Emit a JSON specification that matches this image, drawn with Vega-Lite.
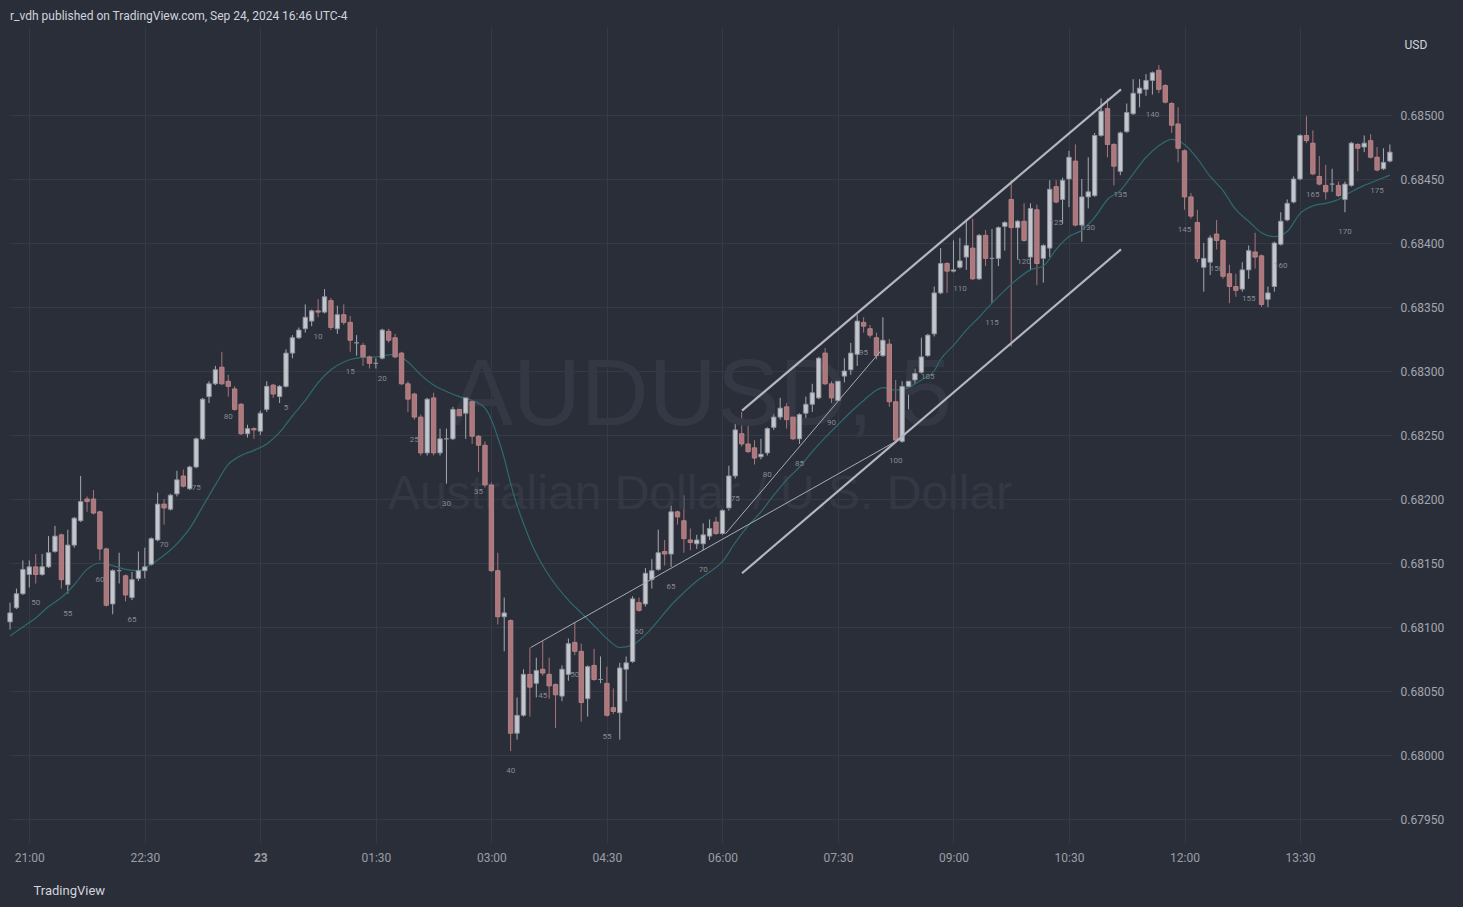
{
"$schema": "https://vega.github.io/schema/vega-lite/v6.json",
"width": 1382, "height": 816,
"autosize": {"type": "none"},
"padding": {"left": 10, "top": 27, "right": 71, "bottom": 64},
"background": "#2a2e39",
"title": {"text": "r_vdh published on TradingView.com, Sep 24, 2024 16:46 UTC-4", "anchor": "start", "frame": "group", "offset": 4, "fontSize": 12, "fontWeight": "normal", "color": "#d1d4dc", "font": "Roboto"},
"datasets": {
"candles": [
{"t":-3,"o":0.68104,"h":0.68119,"l":0.68098,"c":0.68111},
{"t":-2,"o":0.68115,"h":0.68130,"l":0.68114,"c":0.68126},
{"t":-1,"o":0.68126,"h":0.68152,"l":0.68125,"c":0.68145},
{"t":0,"o":0.68141,"h":0.68152,"l":0.68131,"c":0.68147},
{"t":1,"o":0.68147,"h":0.68157,"l":0.68134,"c":0.68141,"n":50},
{"t":2,"o":0.68141,"h":0.68157,"l":0.68140,"c":0.68147},
{"t":3,"o":0.68147,"h":0.68171,"l":0.68146,"c":0.68158},
{"t":4,"o":0.68159,"h":0.68179,"l":0.68158,"c":0.68171},
{"t":5,"o":0.68172,"h":0.68173,"l":0.68130,"c":0.68137},
{"t":6,"o":0.68133,"h":0.68176,"l":0.68126,"c":0.68164,"n":55},
{"t":7,"o":0.68164,"h":0.68186,"l":0.68162,"c":0.68185},
{"t":8,"o":0.68183,"h":0.68218,"l":0.68182,"c":0.68198},
{"t":9,"o":0.68200,"h":0.68202,"l":0.68190,"c":0.68198},
{"t":10,"o":0.68200,"h":0.68207,"l":0.68188,"c":0.68189},
{"t":11,"o":0.68190,"h":0.68191,"l":0.68152,"c":0.68161,"n":60},
{"t":12,"o":0.68161,"h":0.68162,"l":0.68116,"c":0.68117},
{"t":13,"o":0.68118,"h":0.68145,"l":0.68110,"c":0.68144},
{"t":14,"o":0.68144,"h":0.68158,"l":0.68134,"c":0.68144},
{"t":15,"o":0.68140,"h":0.68141,"l":0.68120,"c":0.68125},
{"t":16,"o":0.68123,"h":0.68143,"l":0.68121,"c":0.68137,"n":65},
{"t":17,"o":0.68138,"h":0.68159,"l":0.68136,"c":0.68144},
{"t":18,"o":0.68144,"h":0.68162,"l":0.68138,"c":0.68147},
{"t":19,"o":0.68149,"h":0.68170,"l":0.68148,"c":0.68169},
{"t":20,"o":0.68168,"h":0.68205,"l":0.68167,"c":0.68196},
{"t":21,"o":0.68196,"h":0.68200,"l":0.68180,"c":0.68193,"n":70},
{"t":22,"o":0.68192,"h":0.68204,"l":0.68191,"c":0.68203},
{"t":23,"o":0.68204,"h":0.68222,"l":0.68202,"c":0.68215},
{"t":24,"o":0.68218,"h":0.68223,"l":0.68209,"c":0.68210},
{"t":25,"o":0.68208,"h":0.68226,"l":0.68207,"c":0.68225},
{"t":26,"o":0.68225,"h":0.68248,"l":0.68224,"c":0.68247,"n":75},
{"t":27,"o":0.68247,"h":0.68279,"l":0.68246,"c":0.68278},
{"t":28,"o":0.68280,"h":0.68292,"l":0.68275,"c":0.68290},
{"t":29,"o":0.68290,"h":0.68304,"l":0.68289,"c":0.68301},
{"t":30,"o":0.68303,"h":0.68315,"l":0.68289,"c":0.68290},
{"t":31,"o":0.68292,"h":0.68297,"l":0.68280,"c":0.68288,"n":80},
{"t":32,"o":0.68286,"h":0.68288,"l":0.68269,"c":0.68270},
{"t":33,"o":0.68274,"h":0.68275,"l":0.68250,"c":0.68251},
{"t":34,"o":0.68251,"h":0.68258,"l":0.68248,"c":0.68255},
{"t":35,"o":0.68255,"h":0.68256,"l":0.68247,"c":0.68254},
{"t":36,"o":0.68253,"h":0.68269,"l":0.68250,"c":0.68267},
{"t":37,"o":0.68270,"h":0.68292,"l":0.68268,"c":0.68288},
{"t":38,"o":0.68289,"h":0.68290,"l":0.68279,"c":0.68282},
{"t":39,"o":0.68280,"h":0.68289,"l":0.68275,"c":0.68288},
{"t":40,"o":0.68288,"h":0.68317,"l":0.68287,"c":0.68314,"n":5},
{"t":41,"o":0.68314,"h":0.68328,"l":0.68310,"c":0.68326},
{"t":42,"o":0.68326,"h":0.68334,"l":0.68325,"c":0.68332},
{"t":43,"o":0.68333,"h":0.68352,"l":0.68330,"c":0.68342},
{"t":44,"o":0.68339,"h":0.68348,"l":0.68335,"c":0.68347},
{"t":45,"o":0.68347,"h":0.68356,"l":0.68342,"c":0.68346,"n":10},
{"t":46,"o":0.68346,"h":0.68364,"l":0.68345,"c":0.68358},
{"t":47,"o":0.68355,"h":0.68357,"l":0.68332,"c":0.68334},
{"t":48,"o":0.68333,"h":0.68351,"l":0.68329,"c":0.68344},
{"t":49,"o":0.68344,"h":0.68352,"l":0.68336,"c":0.68338},
{"t":50,"o":0.68338,"h":0.68343,"l":0.68315,"c":0.68324,"n":15},
{"t":51,"o":0.68322,"h":0.68328,"l":0.68312,"c":0.68322},
{"t":52,"o":0.68320,"h":0.68322,"l":0.68304,"c":0.68311},
{"t":53,"o":0.68311,"h":0.68312,"l":0.68302,"c":0.68306},
{"t":54,"o":0.68306,"h":0.68310,"l":0.68302,"c":0.68306},
{"t":55,"o":0.68310,"h":0.68333,"l":0.68309,"c":0.68332,"n":20},
{"t":56,"o":0.68331,"h":0.68333,"l":0.68322,"c":0.68324},
{"t":57,"o":0.68326,"h":0.68329,"l":0.68310,"c":0.68311},
{"t":58,"o":0.68314,"h":0.68315,"l":0.68289,"c":0.68290},
{"t":59,"o":0.68290,"h":0.68292,"l":0.68268,"c":0.68278},
{"t":60,"o":0.68282,"h":0.68283,"l":0.68262,"c":0.68264,"n":25},
{"t":61,"o":0.68264,"h":0.68266,"l":0.68234,"c":0.68236},
{"t":62,"o":0.68236,"h":0.68279,"l":0.68234,"c":0.68278},
{"t":63,"o":0.68279,"h":0.68283,"l":0.68234,"c":0.68236},
{"t":64,"o":0.68236,"h":0.68255,"l":0.68234,"c":0.68247},
{"t":65,"o":0.68247,"h":0.68255,"l":0.68212,"c":0.68247,"n":30},
{"t":66,"o":0.68247,"h":0.68272,"l":0.68246,"c":0.68270},
{"t":67,"o":0.68270,"h":0.68274,"l":0.68262,"c":0.68265},
{"t":68,"o":0.68267,"h":0.68280,"l":0.68247,"c":0.68279},
{"t":69,"o":0.68276,"h":0.68278,"l":0.68243,"c":0.68249},
{"t":70,"o":0.68249,"h":0.68250,"l":0.68221,"c":0.68242,"n":35},
{"t":71,"o":0.68242,"h":0.68245,"l":0.68209,"c":0.68211},
{"t":72,"o":0.68211,"h":0.68213,"l":0.68143,"c":0.68144},
{"t":73,"o":0.68144,"h":0.68158,"l":0.68102,"c":0.68108},
{"t":74,"o":0.68108,"h":0.68123,"l":0.68081,"c":0.68111},
{"t":75,"o":0.68105,"h":0.68106,"l":0.68003,"c":0.68017,"n":40},
{"t":76,"o":0.68017,"h":0.68045,"l":0.68012,"c":0.68031},
{"t":77,"o":0.68031,"h":0.68067,"l":0.68030,"c":0.68063},
{"t":78,"o":0.68063,"h":0.68084,"l":0.68030,"c":0.68053},
{"t":79,"o":0.68056,"h":0.68076,"l":0.68045,"c":0.68066},
{"t":80,"o":0.68067,"h":0.68089,"l":0.68062,"c":0.68064,"n":45},
{"t":81,"o":0.68063,"h":0.68076,"l":0.68044,"c":0.68054},
{"t":82,"o":0.68055,"h":0.68056,"l":0.68021,"c":0.68047},
{"t":83,"o":0.68046,"h":0.68070,"l":0.68042,"c":0.68067},
{"t":84,"o":0.68063,"h":0.68091,"l":0.68058,"c":0.68087},
{"t":85,"o":0.68088,"h":0.68104,"l":0.68078,"c":0.68081,"n":50},
{"t":86,"o":0.68081,"h":0.68087,"l":0.68026,"c":0.68041},
{"t":87,"o":0.68044,"h":0.68070,"l":0.68030,"c":0.68069},
{"t":88,"o":0.68070,"h":0.68083,"l":0.68058,"c":0.68059},
{"t":89,"o":0.68059,"h":0.68077,"l":0.68056,"c":0.68059},
{"t":90,"o":0.68056,"h":0.68069,"l":0.68030,"c":0.68031,"n":55},
{"t":91,"o":0.68037,"h":0.68052,"l":0.68032,"c":0.68034},
{"t":92,"o":0.68033,"h":0.68072,"l":0.68012,"c":0.68068},
{"t":93,"o":0.68067,"h":0.68077,"l":0.68042,"c":0.68072},
{"t":94,"o":0.68073,"h":0.68124,"l":0.68072,"c":0.68122},
{"t":95,"o":0.68119,"h":0.68123,"l":0.68112,"c":0.68113,"n":60},
{"t":96,"o":0.68118,"h":0.68146,"l":0.68116,"c":0.68142},
{"t":97,"o":0.68137,"h":0.68153,"l":0.68130,"c":0.68144},
{"t":98,"o":0.68145,"h":0.68176,"l":0.68144,"c":0.68158},
{"t":99,"o":0.68159,"h":0.68168,"l":0.68148,"c":0.68157},
{"t":100,"o":0.68157,"h":0.68195,"l":0.68147,"c":0.68190,"n":65},
{"t":101,"o":0.68190,"h":0.68191,"l":0.68180,"c":0.68186},
{"t":102,"o":0.68183,"h":0.68203,"l":0.68158,"c":0.68169},
{"t":103,"o":0.68168,"h":0.68177,"l":0.68160,"c":0.68166},
{"t":104,"o":0.68165,"h":0.68172,"l":0.68161,"c":0.68168},
{"t":105,"o":0.68165,"h":0.68181,"l":0.68160,"c":0.68172,"n":70},
{"t":106,"o":0.68171,"h":0.68184,"l":0.68168,"c":0.68177},
{"t":107,"o":0.68182,"h":0.68186,"l":0.68172,"c":0.68173},
{"t":108,"o":0.68173,"h":0.68192,"l":0.68172,"c":0.68191},
{"t":109,"o":0.68193,"h":0.68226,"l":0.68191,"c":0.68218},
{"t":110,"o":0.68218,"h":0.68260,"l":0.68216,"c":0.68254,"n":75},
{"t":111,"o":0.68251,"h":0.68268,"l":0.68241,"c":0.68243},
{"t":112,"o":0.68243,"h":0.68262,"l":0.68236,"c":0.68237},
{"t":113,"o":0.68240,"h":0.68246,"l":0.68227,"c":0.68232},
{"t":114,"o":0.68233,"h":0.68247,"l":0.68231,"c":0.68235},
{"t":115,"o":0.68236,"h":0.68256,"l":0.68234,"c":0.68255,"n":80},
{"t":116,"o":0.68256,"h":0.68267,"l":0.68254,"c":0.68264},
{"t":117,"o":0.68264,"h":0.68279,"l":0.68262,"c":0.68271},
{"t":118,"o":0.68272,"h":0.68275,"l":0.68255,"c":0.68262},
{"t":119,"o":0.68264,"h":0.68267,"l":0.68246,"c":0.68247},
{"t":120,"o":0.68247,"h":0.68267,"l":0.68243,"c":0.68266,"n":85},
{"t":121,"o":0.68267,"h":0.68280,"l":0.68259,"c":0.68274},
{"t":122,"o":0.68274,"h":0.68290,"l":0.68268,"c":0.68283},
{"t":123,"o":0.68279,"h":0.68311,"l":0.68278,"c":0.68310},
{"t":124,"o":0.68314,"h":0.68318,"l":0.68289,"c":0.68290},
{"t":125,"o":0.68290,"h":0.68292,"l":0.68275,"c":0.68279,"n":90},
{"t":126,"o":0.68277,"h":0.68293,"l":0.68272,"c":0.68292},
{"t":127,"o":0.68296,"h":0.68310,"l":0.68291,"c":0.68300},
{"t":128,"o":0.68301,"h":0.68322,"l":0.68297,"c":0.68314},
{"t":129,"o":0.68313,"h":0.68344,"l":0.68304,"c":0.68339},
{"t":130,"o":0.68338,"h":0.68342,"l":0.68330,"c":0.68335,"n":95},
{"t":131,"o":0.68333,"h":0.68336,"l":0.68326,"c":0.68328},
{"t":132,"o":0.68326,"h":0.68330,"l":0.68309,"c":0.68312},
{"t":133,"o":0.68312,"h":0.68342,"l":0.68311,"c":0.68324},
{"t":134,"o":0.68321,"h":0.68325,"l":0.68272,"c":0.68276},
{"t":135,"o":0.68276,"h":0.68293,"l":0.68245,"c":0.68246,"n":100},
{"t":136,"o":0.68245,"h":0.68292,"l":0.68244,"c":0.68288},
{"t":137,"o":0.68288,"h":0.68297,"l":0.68270,"c":0.68292},
{"t":138,"o":0.68293,"h":0.68302,"l":0.68290,"c":0.68298},
{"t":139,"o":0.68299,"h":0.68326,"l":0.68298,"c":0.68311},
{"t":140,"o":0.68312,"h":0.68329,"l":0.68311,"c":0.68328,"n":105},
{"t":141,"o":0.68329,"h":0.68366,"l":0.68327,"c":0.68361},
{"t":142,"o":0.68361,"h":0.68396,"l":0.68360,"c":0.68384},
{"t":143,"o":0.68384,"h":0.68385,"l":0.68361,"c":0.68378},
{"t":144,"o":0.68378,"h":0.68402,"l":0.68377,"c":0.68379},
{"t":145,"o":0.68381,"h":0.68404,"l":0.68380,"c":0.68386,"n":110},
{"t":146,"o":0.68389,"h":0.68418,"l":0.68379,"c":0.68398},
{"t":147,"o":0.68396,"h":0.68419,"l":0.68371,"c":0.68372},
{"t":148,"o":0.68372,"h":0.68407,"l":0.68371,"c":0.68406},
{"t":149,"o":0.68406,"h":0.68410,"l":0.68382,"c":0.68388},
{"t":150,"o":0.68388,"h":0.68411,"l":0.68353,"c":0.68388,"n":115},
{"t":151,"o":0.68388,"h":0.68413,"l":0.68382,"c":0.68412},
{"t":152,"o":0.68413,"h":0.68417,"l":0.68394,"c":0.68416},
{"t":153,"o":0.68434,"h":0.68449,"l":0.68319,"c":0.68412},
{"t":154,"o":0.68412,"h":0.68418,"l":0.68387,"c":0.68417},
{"t":155,"o":0.68417,"h":0.68431,"l":0.68401,"c":0.68402,"n":120},
{"t":156,"o":0.68389,"h":0.68431,"l":0.68379,"c":0.68427},
{"t":157,"o":0.68426,"h":0.68430,"l":0.68367,"c":0.68384},
{"t":158,"o":0.68388,"h":0.68399,"l":0.68369,"c":0.68398},
{"t":159,"o":0.68396,"h":0.68449,"l":0.68389,"c":0.68442},
{"t":160,"o":0.68444,"h":0.68449,"l":0.68431,"c":0.68432,"n":125},
{"t":161,"o":0.68434,"h":0.68451,"l":0.68415,"c":0.68449},
{"t":162,"o":0.68450,"h":0.68472,"l":0.68428,"c":0.68467},
{"t":163,"o":0.68464,"h":0.68477,"l":0.68413,"c":0.68414},
{"t":164,"o":0.68414,"h":0.68450,"l":0.68401,"c":0.68436},
{"t":165,"o":0.68436,"h":0.68467,"l":0.68427,"c":0.68440,"n":130},
{"t":166,"o":0.68437,"h":0.68486,"l":0.68436,"c":0.68484},
{"t":167,"o":0.68484,"h":0.68513,"l":0.68483,"c":0.68503},
{"t":168,"o":0.68505,"h":0.68513,"l":0.68467,"c":0.68477},
{"t":169,"o":0.68477,"h":0.68478,"l":0.68445,"c":0.68460},
{"t":170,"o":0.68456,"h":0.68487,"l":0.68453,"c":0.68486,"n":135},
{"t":171,"o":0.68487,"h":0.68509,"l":0.68486,"c":0.68502},
{"t":172,"o":0.68501,"h":0.68528,"l":0.68500,"c":0.68517},
{"t":173,"o":0.68517,"h":0.68528,"l":0.68506,"c":0.68521},
{"t":174,"o":0.68520,"h":0.68532,"l":0.68515,"c":0.68527},
{"t":175,"o":0.68527,"h":0.68534,"l":0.68516,"c":0.68533,"n":140},
{"t":176,"o":0.68535,"h":0.68539,"l":0.68517,"c":0.68520},
{"t":177,"o":0.68523,"h":0.68524,"l":0.68509,"c":0.68510},
{"t":178,"o":0.68509,"h":0.68510,"l":0.68486,"c":0.68492},
{"t":179,"o":0.68493,"h":0.68506,"l":0.68463,"c":0.68474},
{"t":180,"o":0.68472,"h":0.68473,"l":0.68426,"c":0.68436,"n":145},
{"t":181,"o":0.68436,"h":0.68439,"l":0.68419,"c":0.68421},
{"t":182,"o":0.68416,"h":0.68426,"l":0.68385,"c":0.68388},
{"t":183,"o":0.68381,"h":0.68400,"l":0.68362,"c":0.68388},
{"t":184,"o":0.68385,"h":0.68406,"l":0.68375,"c":0.68404},
{"t":185,"o":0.68407,"h":0.68418,"l":0.68395,"c":0.68402,"n":150},
{"t":186,"o":0.68402,"h":0.68403,"l":0.68372,"c":0.68374},
{"t":187,"o":0.68376,"h":0.68383,"l":0.68353,"c":0.68366},
{"t":188,"o":0.68366,"h":0.68376,"l":0.68358,"c":0.68363},
{"t":189,"o":0.68364,"h":0.68385,"l":0.68362,"c":0.68379},
{"t":190,"o":0.68379,"h":0.68398,"l":0.68372,"c":0.68394,"n":155},
{"t":191,"o":0.68393,"h":0.68408,"l":0.68380,"c":0.68389},
{"t":192,"o":0.68390,"h":0.68391,"l":0.68350,"c":0.68352},
{"t":193,"o":0.68356,"h":0.68366,"l":0.68350,"c":0.68361},
{"t":194,"o":0.68366,"h":0.68401,"l":0.68362,"c":0.68400},
{"t":195,"o":0.68399,"h":0.68424,"l":0.68398,"c":0.68417,"n":160},
{"t":196,"o":0.68418,"h":0.68434,"l":0.68417,"c":0.68431},
{"t":197,"o":0.68432,"h":0.68452,"l":0.68431,"c":0.68450},
{"t":198,"o":0.68450,"h":0.68485,"l":0.68449,"c":0.68484},
{"t":199,"o":0.68484,"h":0.68499,"l":0.68478,"c":0.68480},
{"t":200,"o":0.68478,"h":0.68488,"l":0.68453,"c":0.68454,"n":165},
{"t":201,"o":0.68452,"h":0.68468,"l":0.68445,"c":0.68446},
{"t":202,"o":0.68445,"h":0.68461,"l":0.68434,"c":0.68440},
{"t":203,"o":0.68446,"h":0.68458,"l":0.68440,"c":0.68446},
{"t":204,"o":0.68445,"h":0.68448,"l":0.68436,"c":0.68437},
{"t":205,"o":0.68434,"h":0.68448,"l":0.68424,"c":0.68446,"n":170},
{"t":206,"o":0.68445,"h":0.68479,"l":0.68444,"c":0.68478},
{"t":207,"o":0.68477,"h":0.68478,"l":0.68456,"c":0.68474},
{"t":208,"o":0.68475,"h":0.68484,"l":0.68471,"c":0.68478},
{"t":209,"o":0.68480,"h":0.68485,"l":0.68466,"c":0.68467},
{"t":210,"o":0.68467,"h":0.68475,"l":0.68456,"c":0.68457,"n":175},
{"t":211,"o":0.68458,"h":0.68474,"l":0.68457,"c":0.68463},
{"t":212,"o":0.68464,"h":0.68477,"l":0.68463,"c":0.68471}
],
"ema": [
{"t":-3,"v":0.68093},{"t":-1,"v":0.68100},{"t":1,"v":0.68107},{"t":3,"v":0.68116},{"t":5,"v":0.68123},{"t":7,"v":0.68133},{"t":9,"v":0.68145},{"t":11,"v":0.68150},{"t":13,"v":0.68148},{"t":15,"v":0.68145},{"t":17,"v":0.68144},{"t":19,"v":0.68149},{"t":21,"v":0.68156},{"t":23,"v":0.68165},{"t":25,"v":0.68177},{"t":27,"v":0.68194},{"t":29,"v":0.68211},{"t":31,"v":0.68227},{"t":33,"v":0.68234},{"t":35,"v":0.68238},{"t":37,"v":0.68243},{"t":39,"v":0.68252},{"t":41,"v":0.68265},{"t":43,"v":0.68277},{"t":45,"v":0.68291},{"t":47,"v":0.68301},{"t":49,"v":0.68307},{"t":51,"v":0.68310},{"t":54,"v":0.68311},{"t":57,"v":0.68313},{"t":59,"v":0.68307},{"t":61,"v":0.68297},{"t":63,"v":0.68289},{"t":65,"v":0.68284},{"t":67,"v":0.68280},{"t":69,"v":0.68277},{"t":71,"v":0.68271},{"t":72,"v":0.68262},{"t":73,"v":0.68248},{"t":74,"v":0.68232},{"t":75,"v":0.68212},{"t":76,"v":0.68195},{"t":77,"v":0.68181},{"t":78,"v":0.68168},{"t":80,"v":0.68148},{"t":82,"v":0.68133},{"t":84,"v":0.68121},{"t":86,"v":0.68111},{"t":88,"v":0.68101},{"t":90,"v":0.68091},{"t":92,"v":0.68084},{"t":94,"v":0.68086},{"t":96,"v":0.68094},{"t":98,"v":0.68105},{"t":100,"v":0.68117},{"t":102,"v":0.68127},{"t":104,"v":0.68136},{"t":106,"v":0.68143},{"t":108,"v":0.68151},{"t":110,"v":0.68166},{"t":112,"v":0.68179},{"t":114,"v":0.68190},{"t":116,"v":0.68203},{"t":118,"v":0.68215},{"t":120,"v":0.68225},{"t":122,"v":0.68237},{"t":124,"v":0.68248},{"t":126,"v":0.68258},{"t":128,"v":0.68268},{"t":130,"v":0.68277},{"t":132,"v":0.68285},{"t":133,"v":0.68287},{"t":135,"v":0.68285},{"t":137,"v":0.68287},{"t":139,"v":0.68293},{"t":141,"v":0.68300},{"t":142,"v":0.68309},{"t":144,"v":0.68320},{"t":146,"v":0.68332},{"t":148,"v":0.68342},{"t":150,"v":0.68353},{"t":152,"v":0.68363},{"t":154,"v":0.68372},{"t":156,"v":0.68379},{"t":158,"v":0.68382},{"t":160,"v":0.68395},{"t":162,"v":0.68405},{"t":164,"v":0.68410},{"t":166,"v":0.68420},{"t":168,"v":0.68434},{"t":170,"v":0.68441},{"t":172,"v":0.68454},{"t":174,"v":0.68467},{"t":176,"v":0.68476},{"t":178,"v":0.68481},{"t":180,"v":0.68477},{"t":182,"v":0.68466},{"t":184,"v":0.68452},{"t":186,"v":0.68441},{"t":188,"v":0.68426},{"t":190,"v":0.68417},{"t":192,"v":0.68408},{"t":194,"v":0.68405},{"t":196,"v":0.68409},{"t":198,"v":0.68423},{"t":200,"v":0.68429},{"t":202,"v":0.68431},{"t":204,"v":0.68434},{"t":206,"v":0.68440},{"t":208,"v":0.68445},{"t":210,"v":0.68449},{"t":212,"v":0.68453}
],
"lines": [
{"g":"up","t":111.05,"p":0.68269},{"g":"up","t":170.1,"p":0.68520},
{"g":"lo","t":111.05,"p":0.68142},{"g":"lo","t":170.1,"p":0.68395},
{"g":"a","t":78.13,"p":0.68084},{"g":"a","t":135,"p":0.68245},
{"g":"b","t":108.5,"p":0.68173},{"g":"b","t":132.9,"p":0.68317}
],
"wm1": [{"w":"AUDUSD, 5"}],
"wm2": [{"w":"Australian Dollar / U.S. Dollar"}]
},
"layer": [
{"data": {"name": "candles"},
 "mark": {"type": "rule", "strokeWidth": 1},
 "encoding": {
  "x": {"field": "t", "type": "quantitative", "scale": {"domain": [-3.007, 212.33], "nice": false, "zero": false, "padding": 0},
   "axis": {"orient": "bottom", "values": [0,18,36,54,72,90,108,126,144,162,180,198], "domain": false, "grid": true, "gridColor": "#363a45", "gridWidth": 1, "ticks": false, "labelPadding": 9, "labelColor": "#9b9ea6", "labelFontSize": 12, "labelFont": "Roboto", "labelFlush": false, "labelOverlap": false,
    "labelFontWeight": {"condition": {"test": "datum.value == 36", "value": "bold"}, "value": "normal"},
    "labelExpr": "datum.value == 0 ? '21:00' : datum.value == 18 ? '22:30' : datum.value == 36 ? '23' : datum.value == 54 ? '01:30' : datum.value == 72 ? '03:00' : datum.value == 90 ? '04:30' : datum.value == 108 ? '06:00' : datum.value == 126 ? '07:30' : datum.value == 144 ? '09:00' : datum.value == 162 ? '10:30' : datum.value == 180 ? '12:00' : '13:30'",
    "title": "TradingView", "titleX": 23, "titleY": 47, "titleAlign": "left", "titleBaseline": "middle", "titleFontSize": 13, "titleFontWeight": "normal", "titleColor": "#d1d4dc", "titleFont": "Roboto"}},
  "y": {"field": "l", "type": "quantitative", "scale": {"domain": [0.6793125, 0.6856875], "nice": false, "zero": false, "padding": 0},
   "axis": {"orient": "right", "values": [0.6795,0.68,0.6805,0.681,0.6815,0.682,0.6825,0.683,0.6835,0.684,0.6845,0.685], "format": ".5f", "domain": false, "grid": true, "gridColor": "#363a45", "gridWidth": 1, "ticks": false, "labelPadding": 8, "labelColor": "#a3a6af", "labelFontSize": 12, "labelFont": "Roboto", "labelBaseline": "middle", "labelFlush": false, "labelOverlap": false,
    "title": "USD", "titleAngle": 0, "titleX": 12, "titleY": 17, "titleAlign": "left", "titleBaseline": "middle", "titleFontSize": 12, "titleFontWeight": "normal", "titleColor": "#d1d4dc", "titleFont": "Roboto"}},
  "y2": {"field": "h"},
  "color": {"condition": {"test": "datum.c >= datum.o", "value": "#a6a9b1"}, "value": "#a87579"}
 }},
{"data": {"name": "wm1"}, "mark": {"type": "text", "font": "Liberation Sans", "fontSize": 94, "color": "#343844", "align": "center", "baseline": "middle", "dx": 0, "dy": -38}, "encoding": {"text": {"field": "w"}}},
{"data": {"name": "wm2"}, "mark": {"type": "text", "font": "Liberation Sans", "fontSize": 48, "color": "#343844", "align": "center", "baseline": "middle", "dx": -1, "dy": 60}, "encoding": {"text": {"field": "w"}}},
{"data": {"name": "ema"}, "mark": {"type": "line", "strokeWidth": 1.2, "color": "#2f6a6f", "interpolate": "monotone"},
 "encoding": {
  "x": {"field": "t", "type": "quantitative"},
  "y": {"field": "v", "type": "quantitative"}
 }},
{"data": {"name": "candles"}, "mark": {"type": "bar", "width": 4.4, "strokeWidth": 0.9},
 "encoding": {
  "x": {"field": "t", "type": "quantitative"},
  "y": {"field": "o", "type": "quantitative"},
  "y2": {"field": "c"},
  "fill": {"condition": {"test": "datum.c >= datum.o", "value": "#c4c6cd"}, "value": "#ad787c"},
  "stroke": {"condition": {"test": "datum.c >= datum.o", "value": "#8f929b"}, "value": "#b8868a"}
 }},
{"data": {"name": "lines"}, "transform": [{"filter": "datum.g == 'up' || datum.g == 'lo'"}], "mark": {"type": "line", "strokeWidth": 2.2, "color": "#b4b7bf"},
 "encoding": {
  "x": {"field": "t", "type": "quantitative"},
  "y": {"field": "p", "type": "quantitative"},
  "detail": {"field": "g"}
 }},
{"data": {"name": "lines"}, "transform": [{"filter": "datum.g == 'a' || datum.g == 'b'"}], "mark": {"type": "line", "strokeWidth": 1, "color": "#a9acb4"},
 "encoding": {
  "x": {"field": "t", "type": "quantitative"},
  "y": {"field": "p", "type": "quantitative"},
  "detail": {"field": "g"}
 }},
{"data": {"name": "candles"}, "transform": [{"filter": "isValid(datum.n)"}], "mark": {"type": "text", "dy": 20, "fontSize": 8, "font": "Roboto", "color": "#878a93", "baseline": "middle", "align": "center"},
 "encoding": {
  "x": {"field": "t", "type": "quantitative"},
  "y": {"field": "l", "type": "quantitative"},
  "text": {"field": "n"}
 }}
],
"config": {"view": {"fill": "#2a2e39", "stroke": null}, "font": "Roboto"}
}
